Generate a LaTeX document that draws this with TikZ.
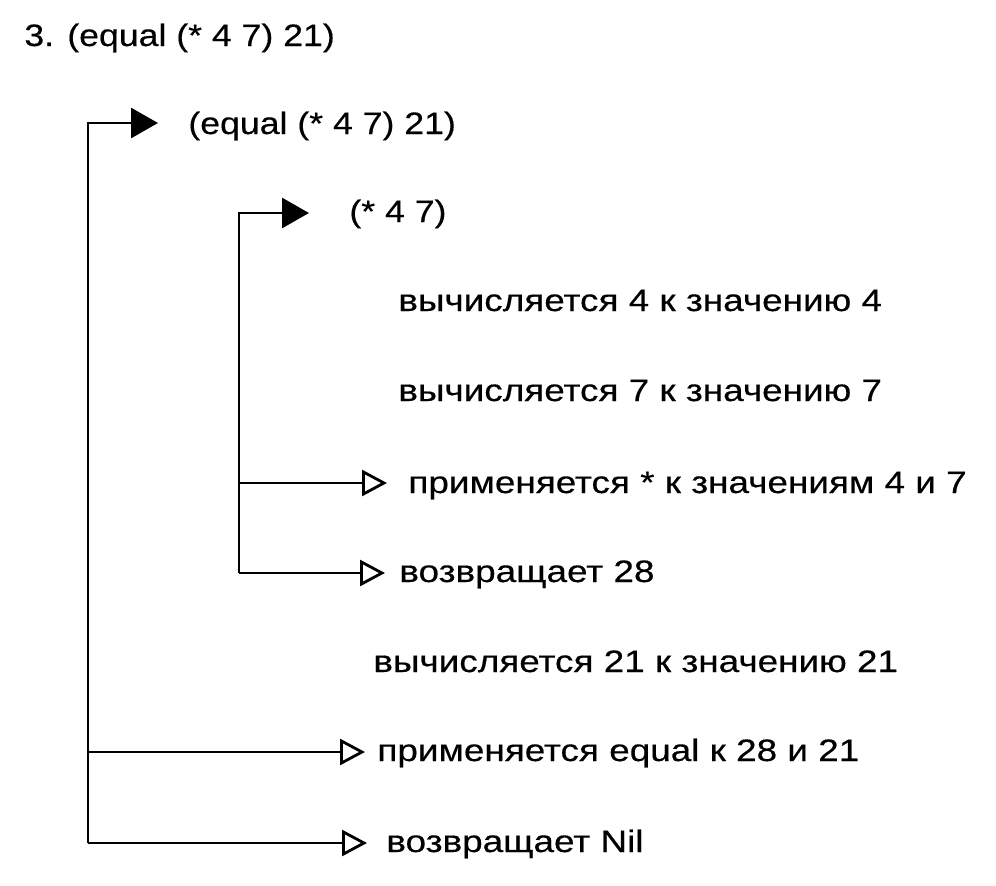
\documentclass[tikz,border=0pt]{standalone}
\usepackage{fontspec}
\setmainfont{Liberation Sans}[FakeStretch=1.15,FakeBold=0.4]
\newfontfamily\cyrwide{Liberation Sans}[FakeStretch=1.19,FakeBold=0.4]
\usetikzlibrary{arrows.meta}
\begin{document}
\begin{tikzpicture}[x=1pt,y=-1pt, line width=2.8pt,
  lbl/.style={anchor=base west, inner sep=0pt, font=\fontsize{31}{37}\selectfont},
  cyr/.style={lbl, font=\cyrwide\fontsize{31}{37}\selectfont},
  solidtip/.style={-{Triangle[length=27pt,width=30pt]}},
  opentip/.style={-{Triangle[open,length=25pt,width=26pt]}}]
\useasboundingbox (0,0) rectangle (996,886);
\node[lbl] (title) at (23,46) {3. (equal (* 4 7) 21)};
\node[lbl] (e1) at (187,134) {(equal (* 4 7) 21)};
\node[lbl] (m1) at (348,222) {(* 4 7)};
\node[cyr] (v4) at (397,311) {вычисляется 4 к значению 4};
\node[cyr] (v7) at (397,401) {вычисляется 7 к значению 7};
\node[cyr] (ap1) at (407,493) {применяется * к значениям 4 и 7};
\node[cyr] (r28) at (398,582) {возвращает 28};
\node[cyr] (v21) at (372,672) {вычисляется 21 к значению 21};
\node[cyr] (ap2) at (376,761) {применяется equal к 28 и 21};
\node[cyr] (rn) at (385,852) {возвращает Nil};
% outer bracket
\coordinate (otop) at (88,123);
\coordinate (obot) at (88,843);
\coordinate (omid) at (88,752);
\coordinate (t1) at (158,123);
\coordinate (t7) at (365,752);
\coordinate (t8) at (367,843);
% inner bracket
\coordinate (itop) at (239,213);
\coordinate (ibot) at (239,573);
\coordinate (imid) at (239,483);
\coordinate (t2) at (309,213);
\coordinate (t5) at (387,483);
\coordinate (t6) at (385,573);
\draw[solidtip] (obot) -- (otop) -- (t1);
\draw[opentip] (omid) -- (t7);
\draw[opentip] (obot) -- (t8);
\draw[solidtip] (ibot) -- (itop) -- (t2);
\draw[opentip] (imid) -- (t5);
\draw[opentip] (ibot) -- (t6);
\end{tikzpicture}
\end{document}
